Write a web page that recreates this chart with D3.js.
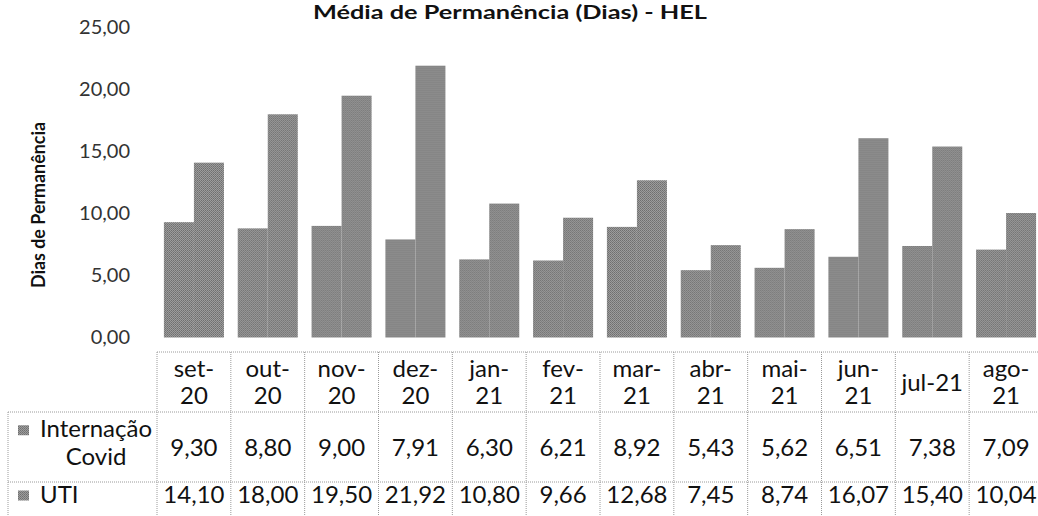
<!DOCTYPE html>
<html>
<head>
<meta charset="utf-8">
<script src="https://cdn.jsdelivr.net/npm/d3@7"></script>
<style>
  body { margin: 0; background: #fff; }
  svg { display: block; font-family: Lato, "Open Sans", sans-serif; }
  .grid line { stroke: #9a9a9a; stroke-width: 1; stroke-dasharray: 1,1; }
</style>
</head>
<body>
<div id="chart"></div>
<script>
// data
var months = ["set-20", "out-20", "nov-20", "dez-20", "jan-21", "fev-21",
              "mar-21", "abr-21", "mai-21", "jun-21", "jul-21", "ago-21"];
var seriesNames = ["Internação Covid", "UTI"];
var internacao = [9.30, 8.80, 9.00, 7.91, 6.30, 6.21, 8.92, 5.43, 5.62, 6.51, 7.38, 7.09];
var uti = [14.10, 18.00, 19.50, 21.92, 10.80, 9.66, 12.68, 7.45, 8.74, 16.07, 15.40, 10.04];
var yTicks = [0, 5, 10, 15, 20, 25];
var title = "Média de Permanência (Dias) - HEL";
var yTitle = "Dias de Permanência";

var values = [internacao, uti];
var width = 1038, height = 516;

var locale = d3.formatLocale({ decimal: ",", thousands: ".", grouping: [3], currency: ["R$", ""] });
var fmt = locale.format(".2f");

var svg = d3.select("#chart").append("svg")
    .attr("width", width)
    .attr("height", height);

// scanned-looking gray fill
var defs = svg.append("defs");
var pat = defs.append("pattern")
    .attr("id", "dither")
    .attr("patternUnits", "userSpaceOnUse")
    .attr("width", 2).attr("height", 2);
pat.append("rect").attr("width", 2).attr("height", 2).attr("fill", "#9c9c9c");
pat.append("rect").attr("width", 1).attr("height", 1).attr("fill", "#6f6f6f");
pat.append("rect").attr("x", 1).attr("y", 1).attr("width", 1).attr("height", 1).attr("fill", "#7a7a7a");

var tableLeft = 8, colLeft = 157, colRight = 1043;
var headerTop = 352, row1Top = 412, row2Top = 482;

var x = d3.scaleBand()
    .domain(months)
    .range([colLeft, colRight])
    .paddingInner(0).paddingOuter(0);

var x1 = d3.scaleBand()
    .domain(seriesNames)
    .range([0, x.bandwidth()])
    .paddingInner(0).paddingOuter(0.23);

var y = d3.scaleLinear()
    .domain([0, 25])
    .range([337.5, 27.5]);

// title
svg.append("text")
    .attr("x", 510).attr("y", 19)
    .attr("text-anchor", "middle")
    .attr("font-weight", "bold")
    .attr("font-size", 19)
    .attr("textLength", 394)
    .attr("lengthAdjust", "spacingAndGlyphs")
    .attr("fill", "#111")
    .text(title);

// y axis labels (no line)
var yAxis = d3.axisLeft(y).tickValues(yTicks).tickFormat(fmt).tickSize(0).tickPadding(0);
var gy = svg.append("g")
    .attr("transform", "translate(130,0)")
    .call(yAxis);
gy.select(".domain").remove();
gy.selectAll("text")
    .attr("font-size", 20)
    .attr("font-family", "Lato, sans-serif")
    .attr("fill", "#333");

svg.append("text")
    .attr("transform", "translate(45,205) rotate(-90)")
    .attr("text-anchor", "middle")
    .attr("font-weight", "bold")
    .attr("font-size", 19)
    .attr("textLength", 166)
    .attr("lengthAdjust", "spacingAndGlyphs")
    .attr("fill", "#111")
    .text(yTitle);

// bars
var groups = svg.append("g").selectAll("g")
    .data(months)
    .enter().append("g")
    .attr("transform", function (d) { return "translate(" + x(d) + ",0)"; });

groups.selectAll("rect")
    .data(function (d, i) {
        return seriesNames.map(function (s, j) { return { key: s, value: values[j][i] }; });
    })
    .enter().append("rect")
    .attr("x", function (d) { return x1(d.key); })
    .attr("width", x1.bandwidth())
    .attr("y", function (d) { return y(d.value); })
    .attr("height", function (d) { return y(0) - y(d.value); })
    .attr("fill", "url(#dither)");

// data table grid
var grid = svg.append("g").attr("class", "grid");
grid.append("line").attr("x1", colLeft).attr("x2", colRight).attr("y1", headerTop).attr("y2", headerTop);
grid.append("line").attr("x1", tableLeft).attr("x2", colRight).attr("y1", row1Top).attr("y2", row1Top);
grid.append("line").attr("x1", tableLeft).attr("x2", colRight).attr("y1", row2Top).attr("y2", row2Top);
grid.append("line").attr("x1", tableLeft).attr("x2", tableLeft).attr("y1", row1Top).attr("y2", height);
grid.selectAll("line.v")
    .data(months.concat(["end"]))
    .enter().append("line")
    .attr("class", "v")
    .attr("x1", function (d, i) { return colLeft + i * x.bandwidth(); })
    .attr("x2", function (d, i) { return colLeft + i * x.bandwidth(); })
    .attr("y1", headerTop).attr("y2", height);

var fontSize = 24, lineH = 27.5, rowLineH = 27.5;

// measure helper
var measurer = svg.append("text").attr("font-size", fontSize).attr("visibility", "hidden");
function textWidth(s) {
    measurer.text(s);
    return measurer.node().getComputedTextLength();
}

// month header, wraps after the hyphen when too wide
var header = svg.append("g").attr("font-size", fontSize).attr("fill", "#111").attr("text-anchor", "middle");
months.forEach(function (m) {
    var lines = textWidth(m) > x.bandwidth() - 12 ? [m.slice(0, m.indexOf("-") + 1), m.slice(m.indexOf("-") + 1)] : [m];
    var cy = (headerTop + row1Top) / 2;
    var first = cy - (lines.length - 1) * lineH / 2 + 8.5;
    lines.forEach(function (l, k) {
        header.append("text")
            .attr("x", x(m) + x.bandwidth() / 2)
            .attr("y", first + k * lineH)
            .text(l);
    });
});

// row headers with legend keys
function wrapWords(s, maxW) {
    var words = s.split(" "), lines = [], cur = "";
    words.forEach(function (w) {
        var t = cur ? cur + " " + w : w;
        if (cur && textWidth(t) > maxW) { lines.push(cur); cur = w; } else { cur = t; }
    });
    lines.push(cur);
    return lines;
}

var rowCenters = [(row1Top + row2Top) / 2, 494];
seriesNames.forEach(function (s, j) {
    var lines = wrapWords(s, colLeft - 40 - 4);
    var blockW = d3.max(lines, textWidth);
    var first = lines.length > 1 ? rowCenters[j] - (lines.length - 1) * rowLineH / 2 + 4 : rowCenters[j] + 8.5;
    svg.append("rect")
        .attr("x", 18).attr("y", first - 12)
        .attr("width", 11).attr("height", 10)
        .attr("fill", "url(#dither)");
    lines.forEach(function (l, k) {
        svg.append("text")
            .attr("x", 40 + blockW / 2)
            .attr("y", first + k * rowLineH)
            .attr("text-anchor", "middle")
            .attr("font-size", fontSize)
            .attr("fill", "#111")
            .text(l);
    });
    // values
    svg.append("g").selectAll("text")
        .data(values[j])
        .enter().append("text")
        .attr("x", function (d, i) { return x(months[i]) + x.bandwidth() / 2; })
        .attr("y", rowCenters[j] + 8.5)
        .attr("text-anchor", "middle")
        .attr("font-size", fontSize)
        .attr("fill", "#111")
        .text(function (d) { return fmt(d); });
});

measurer.remove();
</script>
</body>
</html>
